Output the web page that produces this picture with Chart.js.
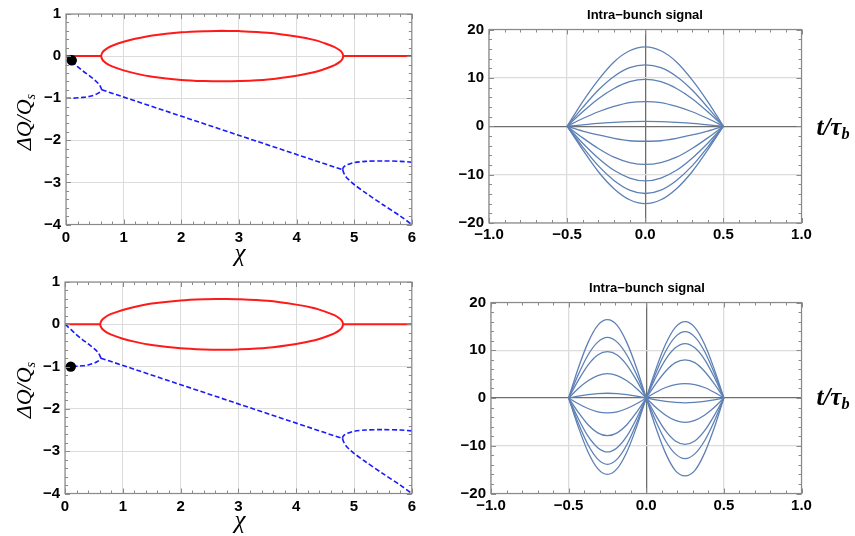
<!DOCTYPE html>
<html>
<head>
<meta charset="utf-8">
<script src="https://cdn.jsdelivr.net/npm/chart.js@4.4.1/dist/chart.umd.min.js"></script>
<style>
  html, body { margin: 0; padding: 0; background: #fff; }
  #figure { position: relative; width: 855px; height: 536px; overflow: hidden; }
  #figure canvas { position: absolute; }
  .lbl { position: absolute; transform: translate(-50%, -50%); line-height: 1; white-space: nowrap; color: #000; }
  .serif { font-family: "Liberation Serif", "DejaVu Serif", serif; font-style: italic; }
  .ylab { font-size: 22px; transform: translate(-50%, -50%) rotate(-90deg); }
  .xlab { font-size: 25px; }
  .tlab { font-size: 25px; font-weight: bold; }
  .title { font-family: "Liberation Sans", Arial, sans-serif; font-weight: bold; font-size: 13px; }
  sub { font-size: 0.65em; vertical-align: -0.25em; }
</style>
</head>
<body>
<div id="figure">
  <canvas id="tl" width="420" height="268" style="left:0;top:0"></canvas>
  <canvas id="tr" width="435" height="268" style="left:420px;top:0"></canvas>
  <canvas id="bl" width="420" height="268" style="left:0;top:268px"></canvas>
  <canvas id="br" width="435" height="268" style="left:420px;top:268px"></canvas>

  <div class="lbl serif ylab" style="left:25px;top:122px">ΔQ/Q<sub>s</sub></div>
  <div class="lbl serif xlab" style="left:240px;top:252px">χ</div>
  <div class="lbl title" style="left:645px;top:14px">Intra−bunch signal</div>
  <div class="lbl serif tlab" style="left:833px;top:128px">t/τ<sub>b</sub></div>

  <div class="lbl serif ylab" style="left:25px;top:390px">ΔQ/Q<sub>s</sub></div>
  <div class="lbl serif xlab" style="left:240px;top:519px">χ</div>
  <div class="lbl title" style="left:647px;top:287px">Intra−bunch signal</div>
  <div class="lbl serif tlab" style="left:833px;top:398px">t/τ<sub>b</sub></div>
</div>
<script>
'use strict';

// ---- tune-shift branches vs. chi ----
const redLeftX = [0, 0.61];
const redLeftY = [0, 0];
const redRightX = [4.81, 6];
const redRightY = [0, 0];

// closed loop, traced clockwise from the top middle so both tips are smooth
const ovalX = [2.71, 3.0, 3.5, 4.0, 4.3, 4.5, 4.66, 4.75, 4.79, 4.81,
               4.79, 4.75, 4.66, 4.5, 4.3, 4.0, 3.5, 3.0, 2.71,
               2.4, 2.0, 1.5, 1.2, 1.0, 0.8, 0.72, 0.66, 0.63, 0.61,
               0.63, 0.66, 0.72, 0.8, 1.0, 1.2, 1.5, 2.0, 2.4, 2.71];
const ovalY = [0.6, 0.594, 0.556, 0.465, 0.385, 0.3, 0.215, 0.138, 0.082, 0,
               -0.082, -0.138, -0.215, -0.3, -0.385, -0.465, -0.556, -0.594, -0.6,
               -0.593, -0.565, -0.49, -0.41, -0.34, -0.245, -0.19, -0.13, -0.082, 0,
               0.082, 0.13, 0.19, 0.245, 0.34, 0.41, 0.49, 0.565, 0.593, 0.6];

const branchAX = [0, 0.1, 0.2, 0.3, 0.4, 0.5, 0.56, 0.6, 0.62];
const branchAY = [0, -0.12, -0.25, -0.36, -0.46, -0.57, -0.65, -0.73, -0.8];
const branchBX = [0, 0.1, 0.2, 0.3, 0.4, 0.5, 0.56, 0.6, 0.62];
const branchBY = [-1, -1, -0.99, -0.98, -0.96, -0.92, -0.88, -0.84, -0.8];
const mergedX = [0.62, 4.8];
const mergedY = [-0.8, -2.7];
const splitUpX = [4.8, 4.81, 4.85, 4.9, 5.0, 5.2, 5.5, 5.8, 6.0];
const splitUpY = [-2.7, -2.65, -2.6, -2.57, -2.53, -2.5, -2.49, -2.5, -2.52];
const splitDnX = [4.8, 4.82, 4.86, 4.9, 5.0, 5.2, 5.5, 5.8, 6.0];
const splitDnY = [-2.7, -2.78, -2.87, -2.93, -3.05, -3.25, -3.53, -3.8, -4.0];

const markTop = { x: 0.1, y: -0.1 };
const markBottom = { x: 0.1, y: -1 };

// ---- intra-bunch signals ----
const tMode0 = [-0.5, -0.4, -0.3, -0.2, -0.1, 0, 0.1, 0.2, 0.3, 0.4, 0.5];
const signalMode0 = [
  [0, 5.1, 9.6, 13.3, 15.6, 16.4, 15.6, 13.3, 9.6, 5.1, 0],
  [0, 3.9, 7.5, 10.3, 12.1, 12.7, 12.1, 10.3, 7.5, 3.9, 0],
  [0, 3.0, 5.7, 7.8, 9.2, 9.7, 9.2, 7.8, 5.7, 3.0, 0],
  [0, 1.6, 3.0, 4.1, 4.9, 5.1, 4.9, 4.1, 3.0, 1.6, 0],
  [0, 0.3, 0.6, 0.8, 0.95, 1.0, 0.95, 0.8, 0.6, 0.3, 0],
  [0, -1.0, -1.8, -2.5, -3.0, -3.1, -3.0, -2.5, -1.8, -1.0, 0],
  [0, -2.4, -4.6, -6.4, -7.5, -7.9, -7.5, -6.4, -4.6, -2.4, 0],
  [0, -3.5, -6.6, -9.1, -10.7, -11.3, -10.7, -9.1, -6.6, -3.5, 0],
  [0, -4.3, -8.2, -11.2, -13.2, -13.9, -13.2, -11.2, -8.2, -4.3, 0],
  [0, -4.9, -9.4, -12.9, -15.2, -16.0, -15.2, -12.9, -9.4, -4.9, 0]
];

const tMode1 = [-0.5, -0.4375, -0.375, -0.3125, -0.25, -0.1875, -0.125, -0.0625, 0,
                0.0625, 0.125, 0.1875, 0.25, 0.3125, 0.375, 0.4375, 0.5];
const signalMode1 = [
  [0, 6.3, 11.6, 15.2, 16.4, 15.2, 11.6, 6.3, 0, -6.3, -11.6, -15.2, -16.3, -15.2, -11.6, -6.3, 0],
  [0, 4.9, 9.0, 11.7, 12.7, 11.7, 9.0, 4.9, 0, -4.9, -9.0, -11.7, -12.7, -11.7, -9.0, -4.9, 0],
  [0, 3.7, 6.9, 9.0, 9.7, 9.0, 6.9, 3.7, 0, -3.7, -6.9, -9.0, -9.7, -9.0, -6.9, -3.7, 0],
  [0, 2.0, 3.6, 4.7, 5.1, 4.7, 3.6, 2.0, 0, -2.0, -3.6, -4.7, -5.1, -4.7, -3.6, -2.0, 0],
  [0, 0.4, 0.7, 0.9, 1.0, 0.9, 0.7, 0.4, 0, -0.4, -0.7, -0.9, -1.0, -0.9, -0.7, -0.4, 0],
  [0, -1.2, -2.2, -2.9, -3.1, -2.9, -2.2, -1.2, 0, 1.2, 2.2, 2.8, 3.0, 2.8, 2.2, 1.2, 0],
  [0, -3.0, -5.6, -7.3, -7.9, -7.3, -5.6, -3.0, 0, 3.0, 5.6, 7.4, 8.0, 7.4, 5.6, 3.0, 0],
  [0, -4.3, -8.0, -10.4, -11.3, -10.4, -8.0, -4.3, 0, 4.4, 8.1, 10.5, 11.4, 10.5, 8.1, 4.4, 0],
  [0, -5.3, -9.8, -12.8, -13.9, -12.8, -9.8, -5.3, 0, 5.3, 9.8, 12.8, 13.9, 12.8, 9.8, 5.3, 0],
  [0, -6.1, -11.3, -14.8, -16.0, -14.8, -11.3, -6.1, 0, 6.1, 11.3, 14.8, 16.0, 14.8, 11.3, 6.1, 0]
];

const RED = '#ff1a1a';
const BLUE = '#1a1aff';
const SIGNAL = '#5e81b5';
const FRAME = '#8a8a8a';
const GRID = '#dcdcdc';
const TICK_FONT = { family: '"Liberation Sans", Arial, sans-serif', size: 15, weight: 'bold' };

function pts(xs, ys) {
  return xs.map((x, i) => ({ x: x, y: ys[i] }));
}

function minus(v, digits) {
  const s = digits ? Math.abs(v).toFixed(digits) : String(Math.abs(v));
  return v < 0 ? '\u2212' + s : s;
}

// Mathematica-style frame: box round the plot area with inward major/minor ticks
const framePlugin = {
  id: 'frame',
  afterDatasetsDraw(chart, args, opts) {
    const { ctx, chartArea: a, scales } = chart;
    ctx.save();
    ctx.strokeStyle = FRAME;
    ctx.lineWidth = 1;
    const tick = (x1, y1, x2, y2) => {
      ctx.beginPath();
      ctx.moveTo(x1, y1);
      ctx.lineTo(x2, y2);
      ctx.stroke();
    };
    const xs = scales.x, ys = scales.y;
    const nx = Math.round((xs.max - xs.min) / opts.minorX);
    for (let i = 0; i <= nx; i++) {
      const v = xs.min + i * opts.minorX;
      const len = (i % opts.perMajorX === 0) ? 5 : 3;
      const px = Math.round(xs.getPixelForValue(v)) + 0.5;
      tick(px, a.bottom, px, a.bottom - len);
      tick(px, a.top, px, a.top + len);
    }
    const ny = Math.round((ys.max - ys.min) / opts.minorY);
    for (let i = 0; i <= ny; i++) {
      const v = ys.min + i * opts.minorY;
      const len = (i % opts.perMajorY === 0) ? 5 : 3;
      const py = Math.round(ys.getPixelForValue(v)) + 0.5;
      tick(a.left, py, a.left + len, py);
      tick(a.right, py, a.right - len, py);
    }
    ctx.lineWidth = 1.2;
    ctx.strokeRect(a.left, a.top, a.right - a.left, a.bottom - a.top);
    ctx.restore();
  }
};

function baseOptions(box, axes, frame) {
  return {
    responsive: false,
    animation: false,
    events: [],
    layout: { padding: { left: 0, top: box.top, right: box.right, bottom: 0 } },
    plugins: { legend: { display: false }, tooltip: { enabled: false }, frame: frame },
    elements: { point: { radius: 0 } },
    scales: {
      x: {
        type: 'linear',
        min: axes.xMin, max: axes.xMax,
        afterFit: (s) => { s.height = box.xHeight; },
        afterBuildTicks: (s) => { s.ticks = axes.xTicks.map(v => ({ value: v })); },
        border: { display: false },
        grid: { color: axes.gridColorX, lineWidth: axes.gridWidthX, drawTicks: false },
        ticks: { color: '#000', font: TICK_FONT, padding: box.xPad, maxRotation: 0,
                 callback: (v) => minus(v, axes.xDigits) }
      },
      y: {
        type: 'linear',
        min: axes.yMin, max: axes.yMax,
        afterFit: (s) => { s.width = box.left; },
        afterBuildTicks: (s) => { s.ticks = axes.yTicks.map(v => ({ value: v })); },
        border: { display: false },
        grid: { color: axes.gridColorY, lineWidth: axes.gridWidthY, drawTicks: false },
        ticks: { color: '#000', font: TICK_FONT, padding: 5,
                 callback: (v) => minus(v, 0) }
      }
    }
  };
}

function tuneChart(id, box, mark) {
  const solid = { borderColor: RED, borderWidth: 2, showLine: true, pointRadius: 0, fill: false };
  const dashed = { borderColor: BLUE, borderWidth: 1.6, borderDash: [5, 2.5], showLine: true, pointRadius: 0, fill: false };
  const curved = { tension: 0.4, cubicInterpolationMode: 'monotone' };
  const datasets = [
    { data: [mark], pointRadius: 5.2, pointBackgroundColor: '#000', pointBorderWidth: 0, showLine: false, order: 0 },
    Object.assign({ data: pts(redLeftX, redLeftY), order: 2 }, solid),
    Object.assign({ data: pts(redRightX, redRightY), order: 2 }, solid),
    Object.assign({ data: pts(ovalX, ovalY), order: 2, tension: 0.3 }, solid),
    Object.assign({ data: pts(branchAX, branchAY), order: 1 }, dashed, curved),
    Object.assign({ data: pts(branchBX, branchBY), order: 1 }, dashed, curved),
    Object.assign({ data: pts(mergedX, mergedY), order: 1 }, dashed),
    Object.assign({ data: pts(splitUpX, splitUpY), order: 1, tension: 0.3 }, dashed),
    Object.assign({ data: pts(splitDnX, splitDnY), order: 1, tension: 0.3 }, dashed)
  ];
  const axes = {
    xMin: 0, xMax: 6, xTicks: [0, 1, 2, 3, 4, 5, 6], xDigits: 0,
    yMin: -4, yMax: 1, yTicks: [-4, -3, -2, -1, 0, 1],
    gridColorX: GRID, gridColorY: GRID, gridWidthX: 1, gridWidthY: 1
  };
  const frame = { minorX: 0.2, perMajorX: 5, minorY: 0.2, perMajorY: 5 };
  return new Chart(document.getElementById(id), {
    type: 'scatter',
    data: { datasets: datasets },
    options: baseOptions(box, axes, frame),
    plugins: [framePlugin]
  });
}

function signalChart(id, box, ts, curves) {
  const axisOrGrid = (ctx) => (ctx.tick && ctx.tick.value === 0) ? '#6e6e6e' : GRID;
  const datasets = curves.map(ys => ({
    data: pts(ts, ys),
    borderColor: SIGNAL,
    borderWidth: 1.3,
    showLine: true,
    pointRadius: 0,
    fill: false,
    cubicInterpolationMode: 'monotone'
  }));
  const axes = {
    xMin: -1, xMax: 1, xTicks: [-1, -0.5, 0, 0.5, 1], xDigits: 1,
    yMin: -20, yMax: 20, yTicks: [-20, -10, 0, 10, 20],
    gridColorX: axisOrGrid, gridColorY: axisOrGrid, gridWidthX: 1.3, gridWidthY: 1.3
  };
  const frame = { minorX: 0.1, perMajorX: 5, minorY: 2, perMajorY: 5 };
  return new Chart(document.getElementById(id), {
    type: 'scatter',
    data: { datasets: datasets },
    options: baseOptions(box, axes, frame),
    plugins: [framePlugin]
  });
}

tuneChart('tl', { left: 66, top: 10, right: 5, xHeight: 43.5, xPad: 4 }, markTop);
tuneChart('bl', { left: 65, top: 9.5, right: 6, xHeight: 42.5, xPad: 4 }, markBottom);
signalChart('tr', { left: 69, top: 29.5, right: 53.5, xHeight: 45, xPad: 3 }, tMode0, signalMode0);
signalChart('br', { left: 71, top: 34.5, right: 53.5, xHeight: 42.5, xPad: 3 }, tMode1, signalMode1);
</script>
</body>
</html>
